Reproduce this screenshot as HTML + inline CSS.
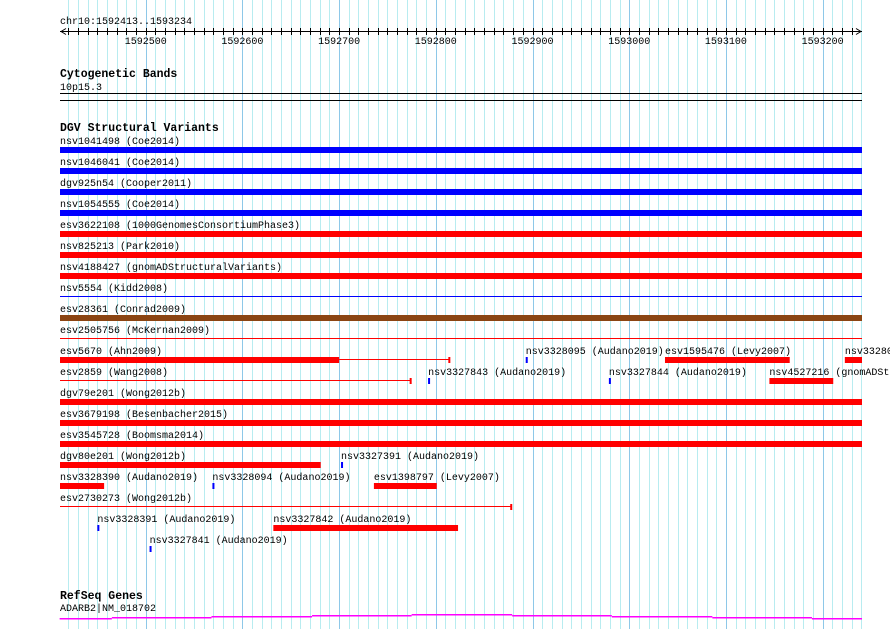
<!DOCTYPE html>
<html><head><meta charset="utf-8">
<style>
body{margin:0;background:#fff;}
svg{display:block;font-family:"Liberation Mono",monospace;}
</style></head>
<body>
<svg id="c" width="890" height="629" xmlns="http://www.w3.org/2000/svg"></svg>
<script>
const majorTicks=[1592500,1592600,1592700,1592800,1592900,1593000,1593100,1593200];
const viewStart=1592411, viewEnd=1593340;
const featNames=["nsv1041498 (Coe2014)","nsv1046041 (Coe2014)","dgv925n54 (Cooper2011)","nsv1054555 (Coe2014)","esv3622108 (1000GenomesConsortiumPhase3)","nsv825213 (Park2010)","nsv4188427 (gnomADStructuralVariants)","nsv5554 (Kidd2008)","esv28361 (Conrad2009)","esv2505756 (McKernan2009)","esv5670 (Ahn2009)","nsv3328095 (Audano2019)","esv1595476 (Levy2007)","nsv3328093 (Audano2019)","esv2859 (Wang2008)","nsv3327843 (Audano2019)","nsv3327844 (Audano2019)","nsv4527216 (gnomADStructuralVariants)","dgv79e201 (Wong2012b)","esv3679198 (Besenbacher2015)","esv3545728 (Boomsma2014)","dgv80e201 (Wong2012b)","nsv3327391 (Audano2019)","nsv3328390 (Audano2019)","nsv3328094 (Audano2019)","esv1398797 (Levy2007)","esv2730273 (Wong2012b)","nsv3328391 (Audano2019)","nsv3327842 (Audano2019)","nsv3327841 (Audano2019)"];
const featStart=[1592411,1592411,1592411,1592411,1592411,1592411,1592411,1592411,1592411,1592411,1592411,1592893,1593037,1593223,1592411,1592792,1592979,1593145,1592411,1592411,1592411,1592411,1592702,1592411,1592569,1592736,1592411,1592450,1592632,1592504];
const featEnd=[1593340,1593340,1593340,1593340,1593340,1593340,1593340,1593340,1593340,1593340,1592700,1592894,1593166,1593340,1592411,1592793,1592980,1593211,1593340,1593340,1593340,1592681,1592703,1592457,1592570,1592801,1592411,1592451,1592823,1592505];
const featLineEnd=[0,0,0,0,0,0,0,0,0,0,1592814,0,0,0,1592774,0,0,0,0,0,0,0,0,0,0,0,1592878,0,0,0];
const featColor=["#0000ff","#0000ff","#0000ff","#0000ff","#ff0000","#ff0000","#ff0000","#0000ff","#8b4513","#ff0000","#ff0000","#0000ff","#ff0000","#ff0000","#ff0000","#0000ff","#0000ff","#ff0000","#ff0000","#ff0000","#ff0000","#ff0000","#0000ff","#ff0000","#0000ff","#ff0000","#ff0000","#0000ff","#ff0000","#0000ff"];
const featThin=[0,0,0,0,0,0,0,1,0,1,0,0,0,0,1,0,0,0,0,0,0,0,0,0,0,0,1,0,0,0];
const featRow=[0,1,2,3,4,5,6,7,8,9,10,10,10,10,11,11,11,11,12,13,14,15,15,16,16,16,17,18,18,19];
const geneSteps=[1592411,1592465,1592568,1592672,1592775,1592879,1592982,1593086,1593189,1593340];
const geneLevel=[618,617,616,615,614,615,616,617,618];

const NS="http://www.w3.org/2000/svg", svg=document.getElementById('c');
const X0=60,X1=862;
function xs(bp){return 145.7+(bp-1592500)*0.967;}
function cx(x){return Math.max(X0,Math.min(X1,x));}
function el(t,a,p){const e=document.createElementNS(NS,t);for(const k in a)e.setAttribute(k,a[k]);(p||svg).appendChild(e);return e;}
function txt(s,x,y,o){const e=el('text',Object.assign({x:x,y:y,'font-size':10,fill:'#000'},o||{}));e.textContent=s;return e;}

for(let bp=1592420;bp<=viewEnd;bp+=10){const x=Math.round(xs(bp))+0.5;if(x<X0||x>X1)continue;
 const major=bp%100===0;
 const g=el('line',{x1:x,x2:x,y1:0,y2:629,stroke:major?'#8ec8e8':'#b8ecf0','stroke-width':1});
 
 }

const t0=txt('chr10:1592413..1593234',60,24);

const ax=el('line',{x1:X0,x2:X1,y1:31.5,y2:31.5,stroke:'#000'});

el('path',{d:'M61 31.5 l5 -3 M61 31.5 l5 3 M861 31.5 l-5 -3 M861 31.5 l-5 3',stroke:'#000',fill:'none'});
for(let bp=1592420;bp<=viewEnd;bp+=10){const x=Math.round(xs(bp))+0.5;if(x<X0+6||x>X1-6)continue;el('line',{x1:x,x2:x,y1:28,y2:35,stroke:'#000'});}
majorTicks.forEach(v=>{const t=txt(String(v),xs(v),44,{'text-anchor':'middle'});
 });

const h1=txt('Cytogenetic Bands',60,77,{'font-weight':'bold','font-size':11.5});

txt('10p15.3',60,90);
el('line',{x1:X0,x2:X1,y1:93.5,y2:93.5,stroke:'#000'});
el('line',{x1:X0,x2:X1,y1:100.5,y2:100.5,stroke:'#000'});

const h2=txt('DGV Structural Variants',60,131,{'font-weight':'bold','font-size':11.5});

featNames.forEach((n,i)=>{
 const rowY=147+featRow[i]*21;
 const sx=cx(xs(featStart[i]));
 const t=txt(n,sx,rowY-3);
 
 const c=featColor[i];
 if(featThin[i]){
   const ex=featLineEnd[i]?cx(xs(featLineEnd[i])):cx(xs(featEnd[i]));
   const l=el('rect',{x:sx,y:rowY+2,width:ex-sx,height:1,fill:c});
   
 } else {
   const ex=cx(xs(featEnd[i]));
   const r=el('rect',{x:sx,y:rowY,width:Math.max(2,ex-sx),height:6,fill:c});
   
 }
 if(featLineEnd[i]){
   const ex=cx(xs(featLineEnd[i]));
   if(!featThin[i])el('rect',{x:cx(xs(featEnd[i])),y:rowY+2,width:ex-cx(xs(featEnd[i])),height:1,fill:'#ff0000'});
   el('rect',{x:ex-1,y:rowY,width:2,height:6,fill:'#ff0000'});
 }
});

const h3=txt('RefSeq Genes',60,599,{'font-weight':'bold','font-size':11.5});

const gl=txt('ADARB2|NM_018702',60,611,{'font-size':10});

for(let i=0;i<geneLevel.length;i++){
 const a=Math.max(56,xs(geneSteps[i])),b=cx(xs(geneSteps[i+1]));
 const s=el('rect',{x:a,y:geneLevel[i],width:b-a,height:1.5,fill:'#ff00ff'});
 
 
}
</script>
</body></html>
